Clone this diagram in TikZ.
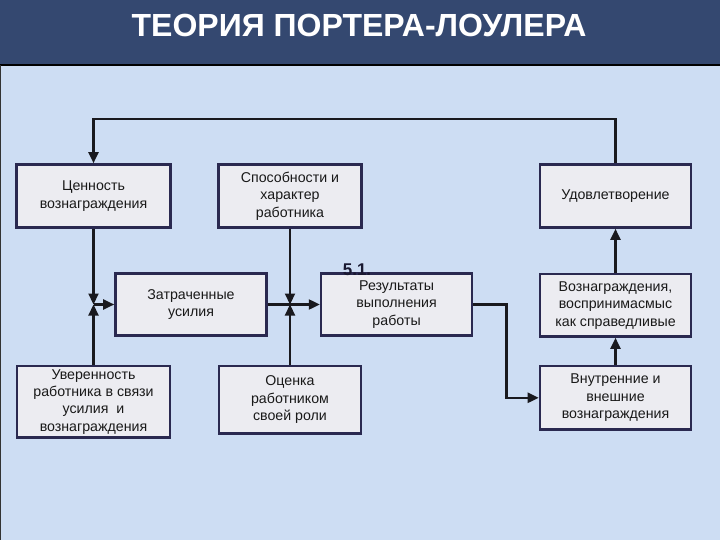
\documentclass[tikz,border=0pt]{standalone}
\usepackage{fontspec}
\setmainfont{Liberation Sans}
\usetikzlibrary{arrows.meta}
\usetikzlibrary{positioning}
\definecolor{titlebar}{RGB}{52,72,112}
\definecolor{slidebg}{RGB}{205,221,243}
\definecolor{boxfill}{RGB}{236,236,241}
\definecolor{boxdraw}{RGB}{42,41,80}
\definecolor{linec}{RGB}{25,25,30}
\tikzstyle{box} = [draw=boxdraw, line width=2.6pt, fill=boxfill, align=center,
inner sep=1pt, font=\fontsize{14.2}{17.3}\selectfont, text=black!90]
\tikzstyle{line} = [draw, -{Triangle[length=11pt,width=10pt]}, line width=2.2pt, color=linec]

\begin{document}
\begin{tikzpicture}[x=1pt, y=-1pt, node distance=44pt]
	\useasboundingbox (0,0) rectangle (720,540);
	\fill[slidebg] (0,0) rectangle (720,540);
	\fill[titlebar] (0,0) rectangle (720,65);
	\draw[black, line width=1.2pt] (0,65) -- (720,65);
	\draw[black!80, line width=1pt] (0.5,65) -- (0.5,540);
	\node[font=\fontsize{32}{32}\selectfont\bfseries, text=white] (title) at (359,25) {ТЕОРИЯ ПОРТЕРА-ЛОУЛЕРА};
	%% Boxes
	\node [box, minimum width=154pt, minimum height=63pt] (value) at (93.5,196) {Ценность\\вознаграждения};
	\node [box, minimum width=143pt, minimum height=63pt] (ability) at (290,196) {Способности и\\характер\\работника};
	\node [box, minimum width=151pt, minimum height=63pt] (satisfaction) at (615.5,196) {Удовлетворение};
	\node [box, minimum width=151pt, minimum height=62.4pt] (effort) at (191,304.5) {Затраченные\\усилия};
	\node [box, minimum width=151pt, minimum height=62.4pt, right=52pt of effort] (result) {Результаты\\выполнения\\работы};
	\node [box, minimum width=151pt, minimum height=62.4pt, below=44pt of satisfaction] (fair) {Вознаграждения,\\воспринимасмыс\\как справедливые};
	\node [box, minimum width=153pt, minimum height=71.4pt, below=136pt of value] (confidence) {Уверенность\\работника в связи\\усилия~~и\\вознаграждения};
	\node [box, minimum width=142pt, minimum height=67.4pt, below=136pt of ability] (role) {Оценка\\работником\\своей роли};
	\node [box, minimum width=151pt, minimum height=63.4pt, below=27pt of fair] (inner) {Внутренние и\\внешние\\вознаграждения};
	\node [font=\fontsize{17}{17}\selectfont\bfseries, text=boxdraw!60!black] (num) at (357,270) {5.1.};
	%% Flows
	\path [line] (value) -- (value |- effort);
	\path [line] (confidence) -- (confidence |- effort);
	\path [line] (value |- effort) -- (effort);
	\path [line] (ability) -- (ability |- effort);
	\path [line] (role) -- (role |- effort);
	\path [line] (effort) -- (result);
	\path [line] (result.east) -- ++(33,0) |- (inner.west);
	\path [line] (inner) -- (fair);
	\path [line] (fair) -- (satisfaction);
	\path [line] (satisfaction.north) -- ++(0,-44) -| (value.north);
\end{tikzpicture}
\end{document}
